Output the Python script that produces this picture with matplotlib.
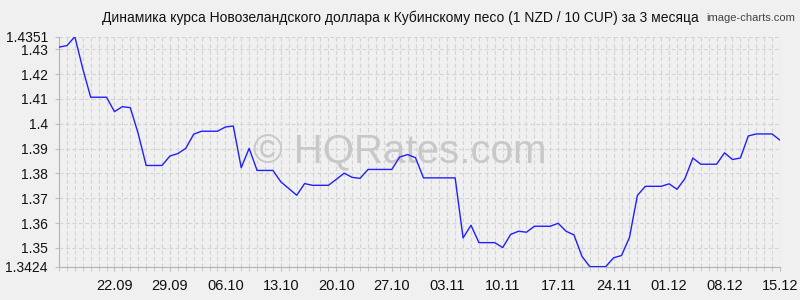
import pandas as pd
import matplotlib.pyplot as plt

# Rate of 1 NZD in 10 CUP, daily, 15.09 - 15.12
title = 'Динамика курса Новозеландского доллара к Кубинскому песо (1 NZD / 10 CUP) за 3 месяца'
dates = pd.date_range('2025-09-15', '2025-12-15', freq='D')
rates = [1.4309, 1.4315, 1.4351, 1.4222, 1.4107, 1.4107, 1.4107, 1.4049, 1.4069, 1.4065,
         1.3960, 1.3832, 1.3832, 1.3832, 1.3870, 1.3880, 1.3901, 1.3958, 1.3970, 1.3970,
         1.3970, 1.3987, 1.3991, 1.3823, 1.3901, 1.3812, 1.3812, 1.3812, 1.3766, 1.3739,
         1.3712, 1.3759, 1.3752, 1.3752, 1.3752, 1.3776, 1.3801, 1.3784, 1.3780, 1.3816,
         1.3816, 1.3816, 1.3816, 1.3866, 1.3876, 1.3863, 1.3782, 1.3782, 1.3782, 1.3782,
         1.3782, 1.3540, 1.3591, 1.3521, 1.3521, 1.3521, 1.3501, 1.3554, 1.3567, 1.3563,
         1.3587, 1.3587, 1.3587, 1.3599, 1.3567, 1.3552, 1.3466, 1.3424, 1.3424, 1.3424,
         1.3460, 1.3469, 1.3542, 1.3711, 1.3748, 1.3748, 1.3748, 1.3758, 1.3736, 1.3779,
         1.3862, 1.3837, 1.3837, 1.3837, 1.3883, 1.3856, 1.3862, 1.3951, 1.3959, 1.3959,
         1.3959, 1.3934]

y_ticks = [1.3424, 1.35, 1.36, 1.37, 1.38, 1.39, 1.40, 1.41, 1.42, 1.43, 1.4351]
y_labels = ['1.3424', '1.35', '1.36', '1.37', '1.38', '1.39', '1.4', '1.41', '1.42', '1.43', '1.4351']
x_labels = ['22.09', '29.09', '06.10', '13.10', '20.10', '27.10', '03.11',
            '10.11', '17.11', '24.11', '01.12', '08.12', '15.12']

plt.rcParams['font.family'] = ['Liberation Sans', 'DejaVu Sans']
bg = '#f0f0f0'
grid_col = '#d4d4d4'

fig = plt.figure(figsize=(8, 3), dpi=100, facecolor=bg)
ax = fig.add_axes([0.07375, 0.111, 0.90125, 0.7667])
ax.set_facecolor(bg)

ax.plot(dates, rates, color='#1f1fff', lw=1.0, zorder=3)

ax.set_xlim(dates[0], dates[-1])
ax.set_ylim(min(rates), max(rates))

x_pos = pd.to_datetime([l + '.2025' for l in x_labels], format='%d.%m.%Y')
ax.set_xticks(x_pos)
ax.set_xticklabels(x_labels)
ax.set_xticks(dates, minor=True)
ax.xaxis.remove_overlapping_locs = False
ax.set_yticks(y_ticks)
ax.set_yticklabels(y_labels)

ax.grid(which='both', axis='x', color=grid_col, lw=0.8, dashes=(3.6, 2.2))
ax.grid(which='major', axis='y', color=grid_col, lw=0.8, dashes=(3.6, 2.2))
ax.set_axisbelow(True)

ax.tick_params(axis='both', which='both', length=3, color='#c0c0c0', labelsize=10.5, labelcolor='#111111')
ax.tick_params(axis='x', which='major', pad=6)
ax.tick_params(axis='y', pad=5, labelsize=10)

for side in ['top', 'right']:
    ax.spines[side].set_visible(False)
for side in ['left', 'bottom']:
    ax.spines[side].set_color('#b4b4b4')
    ax.spines[side].set_linewidth(0.8)

# watermark
ax.text(253 / 800, 1 - 163 / 300, '© HQRates.com', transform=fig.transFigure,
        fontsize=29, color='#c8c8c8', ha='left', va='baseline', zorder=2)

fig.text(0.5, 1 - 18 / 300, title, ha='center', va='center', fontsize=10, color='#111111')
fig.text(795 / 800, 1 - 18 / 300, 'image-charts.com', ha='right', va='center',
         fontsize=8, color='#444444')

fig.savefig('out.png', dpi=100, facecolor=bg)
